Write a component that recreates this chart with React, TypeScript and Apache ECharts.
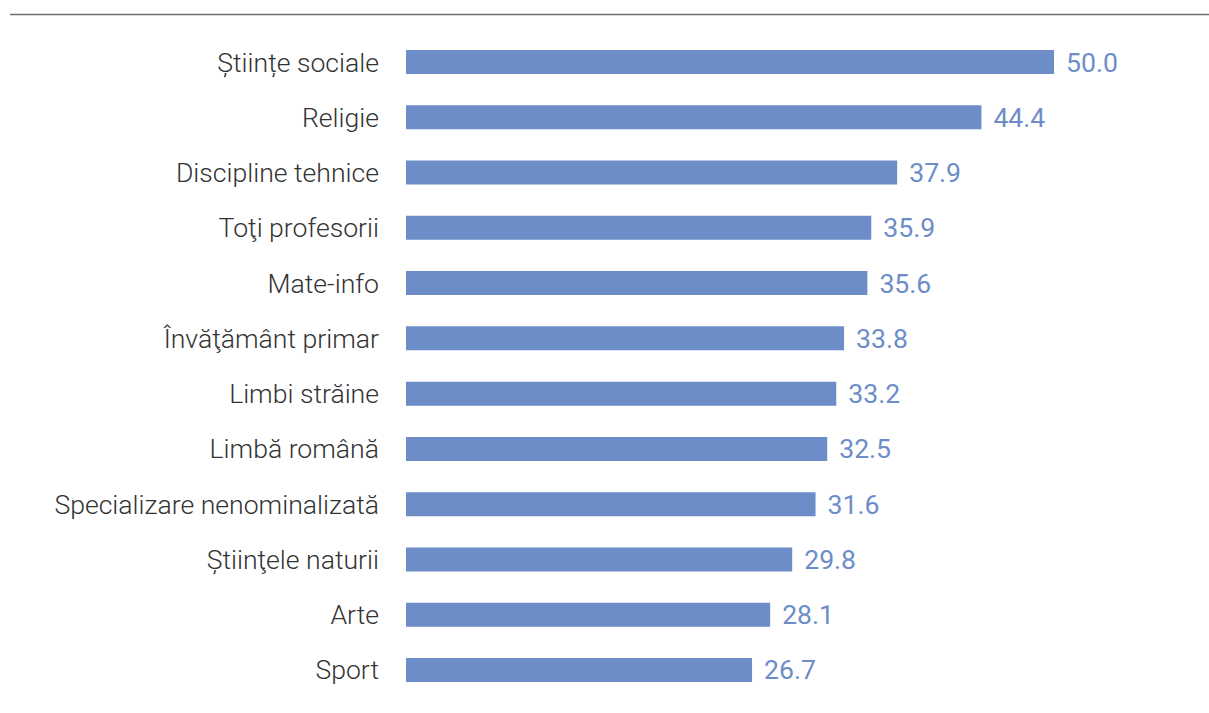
import React, { useEffect, useRef } from "react";
import * as echarts from "echarts";

const categories = [
  "Științe sociale",
  "Religie",
  "Discipline tehnice",
  "Toţi profesorii",
  "Mate-info",
  "Învăţământ primar",
  "Limbi străine",
  "Limbă română",
  "Specializare nenominalizată",
  "Știinţele naturii",
  "Arte",
  "Sport",
];
const values = [50.0, 44.4, 37.9, 35.9, 35.6, 33.8, 33.2, 32.5, 31.6, 29.8, 28.1, 26.7];

export default function App() {
  const ref = useRef<HTMLDivElement>(null);
  useEffect(() => {
    if (!ref.current) return;
    const chart = echarts.init(ref.current, undefined, { renderer: "svg" });
    chart.setOption({
      animation: false,
      grid: { left: 406, right: 155, top: 34.4, bottom: 15.4, containLabel: false },
      xAxis: {
        type: "value",
        min: 0,
        max: 50,
        show: false,
      },
      yAxis: {
        type: "category",
        data: categories,
        inverse: true,
        axisLine: { show: false },
        axisTick: { show: false },
        axisLabel: {
          margin: 27,
          fontFamily: "Roboto",
          fontWeight: 300,
          fontSize: 26.6,
          color: "#333333",
          padding: [0, 0, 7, 0],
        },
      },
      graphic: [
        {
          type: "line",
          shape: { x1: 10, y1: 14.5, x2: 1209, y2: 14.5 },
          style: { stroke: "#707070", lineWidth: 1.5 },
        },
      ],
      series: [
        {
          type: "bar",
          data: values,
          barWidth: 24,
          itemStyle: { color: "#6C8DC8" },
          label: {
            show: true,
            position: "right",
            distance: 12,
            formatter: (p: any) => Number(p.value).toFixed(1),
            fontFamily: "Roboto",
            fontWeight: 400,
            fontSize: 26.6,
            color: "#6C8DC8",
            padding: [0, 0, 3, 0],
          },
        },
      ],
    });
    return () => chart.dispose();
  }, []);
  return (
    <div
      ref={ref}
      style={{ position: "absolute", left: 0, top: 0, width: 1209, height: 713, background: "#fff" }}
    />
  );
}
